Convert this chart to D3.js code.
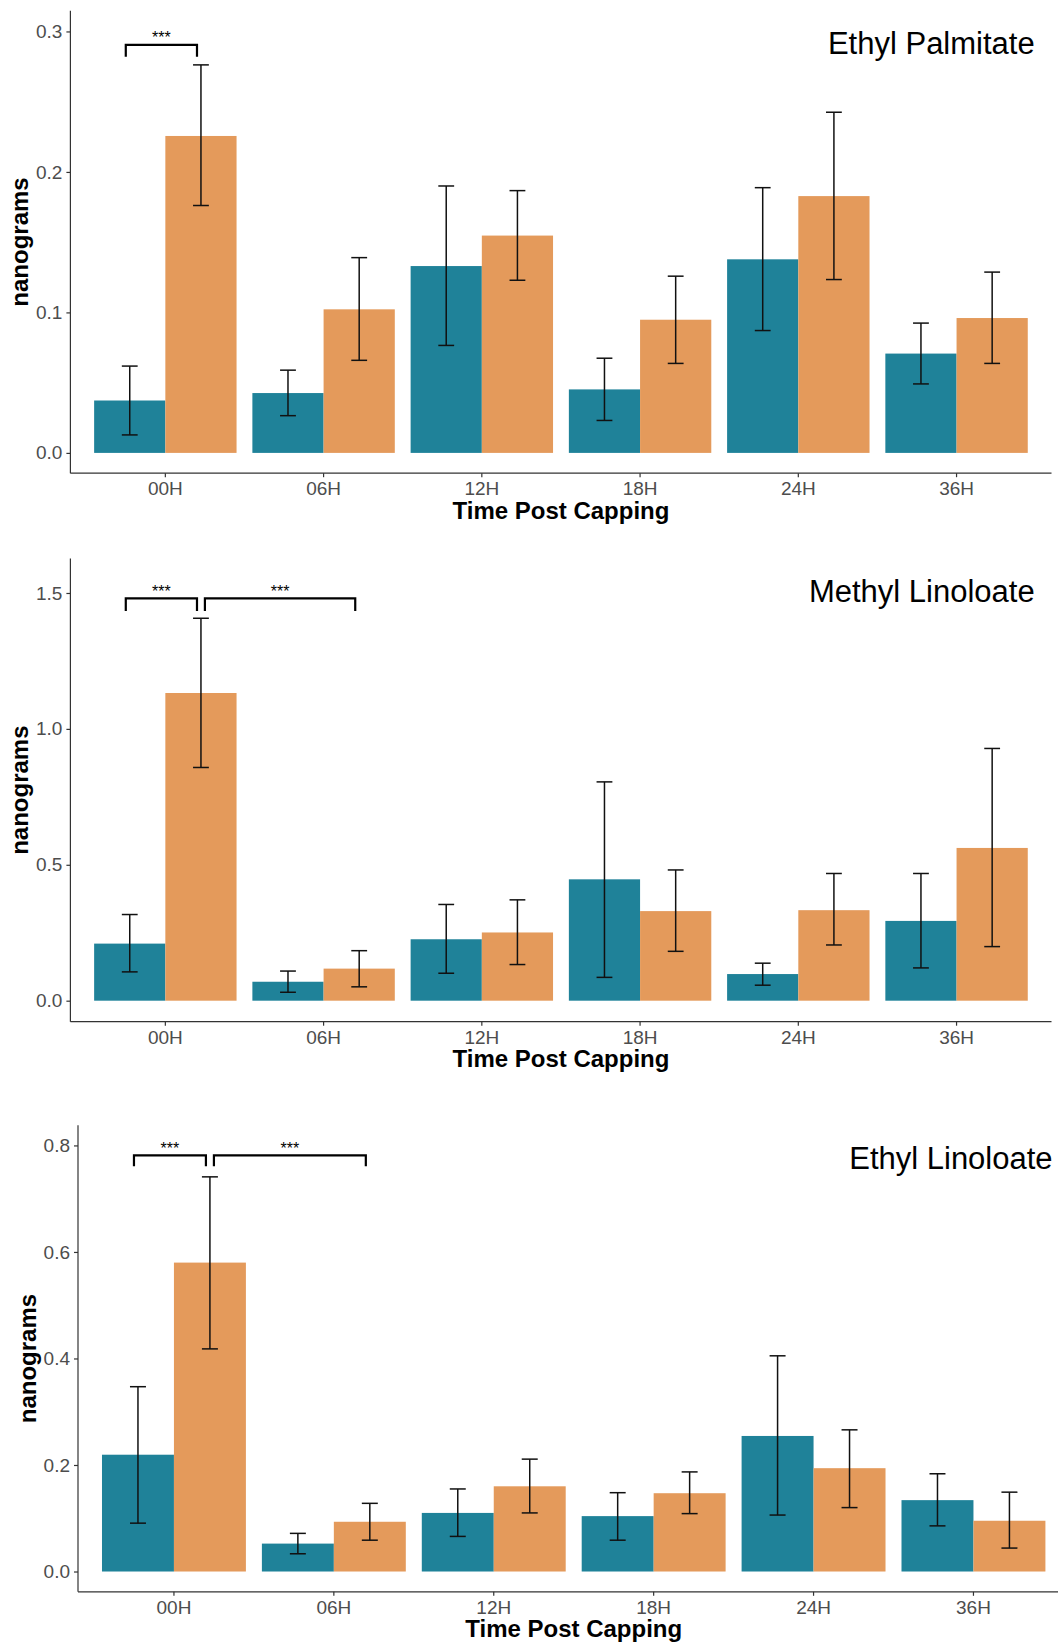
<!DOCTYPE html>
<html>
<head>
<meta charset="utf-8">
<script src="https://cdn.jsdelivr.net/npm/d3@7"></script>
<style>
  html, body { margin: 0; padding: 0; background: #ffffff; }
  svg { display: block; font-family: "Liberation Sans", Arial, Helvetica, sans-serif; }
</style>
</head>
<body>
<script>
// ---------------- DATA ----------------
const categories = ["00H", "06H", "12H", "18H", "24H", "36H"];
const seriesNames = ["Group A", "Group B"];
const seriesColors = ["#1f8299", "#e49a5b"];

// Ethyl Palmitate
const epMeanA = [0.0373, 0.0426, 0.1330, 0.0452, 0.1378, 0.0707];
const epLowA  = [0.0128, 0.0265, 0.0765, 0.0231, 0.0871, 0.0491];
const epHighA = [0.0618, 0.0589, 0.1900, 0.0674, 0.1888, 0.0924];
const epMeanB = [0.2256, 0.1022, 0.1547, 0.0948, 0.1828, 0.0960];
const epLowB  = [0.1761, 0.0659, 0.1229, 0.0637, 0.1234, 0.0637];
const epHighB = [0.2762, 0.1390, 0.1867, 0.1258, 0.2425, 0.1287];
const epTicks = [0, 0.1, 0.2, 0.3];
const epBracketXmin = [0.75];
const epBracketXmax = [1.2];
const epBracketY    = [0.2904];
const epBracketTip  = [0.2820];
const epBracketText = ["***"];

// Methyl Linoloate
const mlMeanA = [0.210, 0.0697, 0.226, 0.4465, 0.098, 0.2935];
const mlLowA  = [0.106, 0.031, 0.101, 0.0858, 0.057, 0.1206];
const mlHighA = [0.317, 0.109, 0.354, 0.805, 0.138, 0.468];
const mlMeanB = [1.132, 0.118, 0.251, 0.3296, 0.333, 0.562];
const mlLowB  = [0.858, 0.051, 0.133, 0.1816, 0.205, 0.199];
const mlHighB = [1.407, 0.184, 0.371, 0.481, 0.468, 0.928];
const mlTicks = [0, 0.5, 1.0, 1.5];
const mlBracketXmin = [0.75, 1.25];
const mlBracketXmax = [1.2, 2.2];
const mlBracketY    = [1.480, 1.480];
const mlBracketTip  = [1.434, 1.434];
const mlBracketText = ["***", "***"];

// Ethyl Linoloate
const elMeanA = [0.2193, 0.0524, 0.110, 0.104, 0.2545, 0.134];
const elLowA  = [0.0908, 0.0333, 0.0659, 0.0588, 0.106, 0.0857];
const elHighA = [0.347, 0.0716, 0.155, 0.148, 0.405, 0.1835];
const elMeanB = [0.580, 0.0934, 0.160, 0.147, 0.194, 0.0953];
const elLowB  = [0.418, 0.0588, 0.110, 0.1087, 0.120, 0.044];
const elHighB = [0.741, 0.128, 0.211, 0.187, 0.266, 0.149];
const elTicks = [0, 0.2, 0.4, 0.6, 0.8];
const elBracketXmin = [0.75, 1.25];
const elBracketXmax = [1.2, 2.2];
const elBracketY    = [0.7815, 0.7815];
const elBracketTip  = [0.761, 0.761];
const elBracketText = ["***", "***"];

const panelTitles = ["Ethyl Palmitate", "Methyl Linoloate", "Ethyl Linoloate"];
const xTitle = "Time Post Capping";
const yTitle = "nanograms";

// ---------------- PANEL SETUP ----------------
const panels = [
  { title: panelTitles[0], mean: [epMeanA, epMeanB], low: [epLowA, epLowB], high: [epHighA, epHighB],
    ticks: epTicks, bx0: epBracketXmin, bx1: epBracketXmax, by: epBracketY, bt: epBracketTip, btxt: epBracketText,
    left: 70.4, right: 1051.5, top: 10.8, bottom: 473.2, domain: [-0.01445, 0.3147] },
  { title: panelTitles[1], mean: [mlMeanA, mlMeanB], low: [mlLowA, mlLowB], high: [mlHighA, mlHighB],
    ticks: mlTicks, bx0: mlBracketXmin, bx1: mlBracketXmax, by: mlBracketY, bt: mlBracketTip, btxt: mlBracketText,
    left: 70.4, right: 1051.5, top: 558.6, bottom: 1021.7, domain: [-0.0773, 1.6265] },
  { title: panelTitles[2], mean: [elMeanA, elMeanB], low: [elLowA, elLowB], high: [elHighA, elHighB],
    ticks: elTicks, bx0: elBracketXmin, bx1: elBracketXmax, by: elBracketY, bt: elBracketTip, btxt: elBracketText,
    left: 78.0, right: 1069.4, top: 1125.3, bottom: 1591.8, domain: [-0.0381, 0.8378] }
];

const W = 1058, H = 1644;
const svg = d3.select("body").append("svg").attr("width", W).attr("height", H);

function drawPanel(p) {
  const g = svg.append("g");
  const x = d3.scaleBand().domain(categories).range([p.left, p.right])
    .paddingInner(0.1).paddingOuter(0.15);
  const xSub = d3.scaleBand().domain(seriesNames).range([0, x.bandwidth()]).padding(0);
  const xLin = d3.scaleLinear().domain([0.4, 6.6]).range([p.left, p.right]);
  const y = d3.scaleLinear().domain(p.domain).range([p.bottom, p.top]);

  // bars
  seriesNames.forEach((s, si) => {
    g.append("g").selectAll("rect").data(categories).join("rect")
      .attr("x", c => x(c) + xSub(s))
      .attr("width", xSub.bandwidth())
      .attr("y", (c, i) => y(p.mean[si][i]))
      .attr("height", (c, i) => y(0) - y(p.mean[si][i]))
      .attr("fill", seriesColors[si]);
  });

  // error bars
  const capW = x.step() * 0.1;
  seriesNames.forEach((s, si) => {
    const eg = g.append("g").attr("stroke", "#111").attr("stroke-width", 1.5).attr("fill", "none");
    categories.forEach((c, i) => {
      const cx = x(c) + xSub(s) + xSub.bandwidth() / 2;
      const yl = y(p.low[si][i]), yh = y(p.high[si][i]);
      eg.append("line").attr("x1", cx).attr("x2", cx).attr("y1", yl).attr("y2", yh);
      eg.append("line").attr("x1", cx - capW / 2).attr("x2", cx + capW / 2).attr("y1", yl).attr("y2", yl);
      eg.append("line").attr("x1", cx - capW / 2).attr("x2", cx + capW / 2).attr("y1", yh).attr("y2", yh);
    });
  });

  // significance brackets
  p.bx0.forEach((v, i) => {
    const x0 = xLin(p.bx0[i]), x1 = xLin(p.bx1[i]);
    const yb = y(p.by[i]), yt = y(p.bt[i]);
    g.append("path")
      .attr("d", `M${x0},${yt}L${x0},${yb}L${x1},${yb}L${x1},${yt}`)
      .attr("fill", "none").attr("stroke", "#000").attr("stroke-width", 2.2);
    g.append("text").attr("x", (x0 + x1) / 2).attr("y", yb - 1.5)
      .attr("text-anchor", "middle").attr("font-size", 16).attr("fill", "#000")
      .text(p.btxt[i]);
  });

  // axes
  const yAxis = d3.axisLeft(y).tickValues(p.ticks).tickFormat(d3.format(".1f"))
    .tickSize(4).tickPadding(4).tickSizeOuter(0);
  const ya = g.append("g").attr("transform", `translate(${p.left},0)`).call(yAxis);
  ya.select(".domain").attr("d", `M0,${p.top}V${p.bottom}`);
  const xAxis = d3.axisBottom(x).tickSize(4).tickPadding(4.5).tickSizeOuter(0);
  const xa = g.append("g").attr("transform", `translate(0,${p.bottom})`).call(xAxis);
  xa.select(".domain").attr("d", `M${p.left},0H${p.right}`);
  [ya, xa].forEach(a => {
    a.select(".domain").attr("stroke", "#333").attr("stroke-width", 1.2);
    a.selectAll(".tick line").attr("stroke", "#333").attr("stroke-width", 1.2);
    a.selectAll(".tick text").attr("fill", "#4d4d4d").attr("font-size", 19)
      .attr("font-family", "'Liberation Sans', Arial, sans-serif");
  });

  // titles
  g.append("text").attr("x", (p.left + p.right) / 2).attr("y", p.bottom + 45.3)
    .attr("text-anchor", "middle").attr("font-size", 24).attr("font-weight", "bold")
    .attr("fill", "#000").text(xTitle);
  const ymid = (p.top + p.bottom) / 2;
  g.append("text").attr("transform", `translate(${p.left - 42.5},${ymid}) rotate(-90)`)
    .attr("text-anchor", "middle").attr("font-size", 24).attr("font-weight", "bold")
    .attr("fill", "#000").text(yTitle);
  g.append("text").attr("x", p.right - 16.8).attr("y", p.top + 43.2)
    .attr("text-anchor", "end").attr("font-size", 31).attr("fill", "#000")
    .text(p.title);
}

panels.forEach(drawPanel);
</script>
</body>
</html>
